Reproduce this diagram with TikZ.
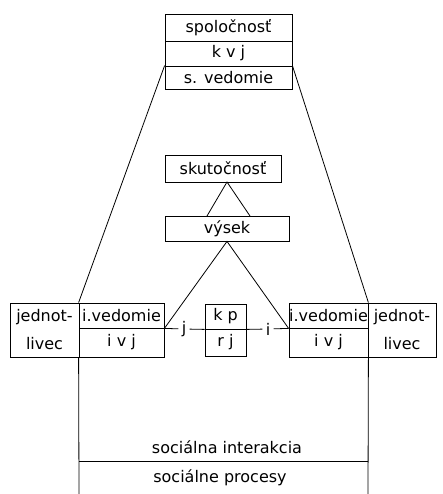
\documentclass[tikz,border=0pt]{standalone}
\usepackage{fontspec}
\setmainfont{DejaVu Sans}
\begin{document}
\begin{tikzpicture}[x=1pt,y=-1pt, line width=0.8pt,
  txt/.style={font=\fontsize{16}{28}\selectfont},
  box/.style={draw, rectangle, inner sep=0pt, txt, align=center},
  lbl/.style={inner sep=3pt, txt}]
\useasboundingbox (0,0) rectangle (442,494);
% top block
\node[box, minimum width=127pt, minimum height=27pt] (spol) at (228.5,27.5) {spoločnosť};
\node[box, minimum width=127pt, minimum height=25pt] (kvj) at (228.5,53.5) {k v j};
\node[box, minimum width=127pt, minimum height=23pt] (sved) at (228.5,77.5) {s. vedomie};
% middle
\node[box, minimum width=116pt, minimum height=27pt] (skut) at (223,168.5) {skutočnosť};
\node[box, minimum width=124pt, minimum height=25pt] (vysek) at (227,228.5) {výsek};
% left group
\node[box, minimum width=69pt, minimum height=54pt] (jedL) at (44.5,330) {jednot-\\livec};
\node[box, minimum width=85pt, minimum height=25pt] (ivedL) at (121.5,315.5) {i.vedomie};
\node[box, minimum width=85pt, minimum height=29pt] (ivjL) at (121.5,342.5) {i v j};
% centre
\node[box, minimum width=41pt, minimum height=25pt] (kp) at (225.5,316.5) {k p};
\node[box, minimum width=41pt, minimum height=27pt] (rj) at (225.5,342.5) {r j};
% right group
\node[box, minimum width=79pt, minimum height=25pt] (ivedR) at (328.5,315.5) {i.vedomie};
\node[box, minimum width=79pt, minimum height=29pt] (ivjR) at (328.5,342.5) {i v j};
\node[box, minimum width=68pt, minimum height=54pt] (jedR) at (402,330) {jednot-\\livec};
% labels on connectors
\node[lbl] (jl) at (184,329) {j};
\node[lbl] (il) at (268,329) {i};
% bottom block
\coordinate (botL) at (79,494);
\coordinate (botR) at (368,494);
\coordinate (midL) at (79,461);
\coordinate (midR) at (368,461);
\node[txt, inner sep=0pt] (inter) at (227,447) {sociálna interakcia};
\node[txt, inner sep=0pt] (proc) at (220,478) {sociálne procesy};
\draw (ivjL.south west) -- (botL);
\draw (ivjR.south east) -- (botR);
\draw (midL) -- (midR);
% connectors
\coordinate (apex) at (227,182);
\coordinate (vl) at (207,216);
\coordinate (vr) at (250,216);
\draw (vl) -- (apex) -- (vr);
\draw (ivedL.south east) -- (vysek.south) -- (ivedR.south west);
\draw (sved.north west) -- (ivedL.north west);
\draw (sved.north east) -- (ivedR.north east);
\draw (ivedL.south east) -- (jl) -- (kp.south west);
\draw (kp.south east) -- (il) -- (ivedR.south west);
\end{tikzpicture}
\end{document}
